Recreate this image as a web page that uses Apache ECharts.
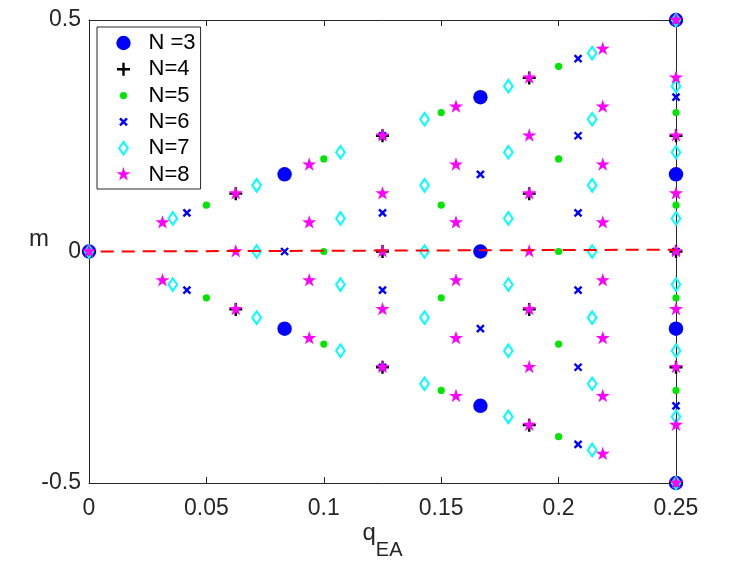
<!DOCTYPE html>
<html><head><meta charset="utf-8">
<script src="https://cdn.jsdelivr.net/npm/echarts@6/dist/echarts.min.js"></script>
<style>html,body{margin:0;padding:0;background:#fff}#c{width:747px;height:564px}</style>
</head><body><div id="c"></div>
<script>
// ---- data (q_EA, m) ----
const seriesNames = ['N =3', 'N=4', 'N=5', 'N=6', 'N=7', 'N=8'];

const n3 = [[0,0],[0.0833,0.1667],[0.0833,-0.1667],[0.1667,0.3333],[0.1667,0],[0.1667,-0.3333],
  [0.25,0.5],[0.25,0.1667],[0.25,-0.1667],[0.25,-0.5]];

const n4 = [[0,0],[0.0625,0.125],[0.0625,-0.125],[0.125,0.25],[0.125,0],[0.125,-0.25],
  [0.1875,0.375],[0.1875,0.125],[0.1875,-0.125],[0.1875,-0.375],
  [0.25,0.5],[0.25,0.25],[0.25,0],[0.25,-0.25],[0.25,-0.5]];

const n5 = [[0,0],[0.05,0.1],[0.05,-0.1],[0.1,0.2],[0.1,0],[0.1,-0.2],
  [0.15,0.3],[0.15,0.1],[0.15,-0.1],[0.15,-0.3],
  [0.2,0.4],[0.2,0.2],[0.2,0],[0.2,-0.2],[0.2,-0.4],
  [0.25,0.5],[0.25,0.3],[0.25,0.1],[0.25,-0.1],[0.25,-0.3],[0.25,-0.5]];

const n6 = [[0,0],[0.0417,0.0833],[0.0417,-0.0833],[0.0833,0.1667],[0.0833,0],[0.0833,-0.1667],
  [0.125,0.25],[0.125,0.0833],[0.125,-0.0833],[0.125,-0.25],
  [0.1667,0.3333],[0.1667,0.1667],[0.1667,0],[0.1667,-0.1667],[0.1667,-0.3333],
  [0.2083,0.4167],[0.2083,0.25],[0.2083,0.0833],[0.2083,-0.0833],[0.2083,-0.25],[0.2083,-0.4167],
  [0.25,0.5],[0.25,0.3333],[0.25,0.1667],[0.25,0],[0.25,-0.1667],[0.25,-0.3333],[0.25,-0.5]];

const n7 = [[0,0],[0.0357,0.0714],[0.0357,-0.0714],[0.0714,0.1429],[0.0714,0],[0.0714,-0.1429],
  [0.1071,0.2143],[0.1071,0.0714],[0.1071,-0.0714],[0.1071,-0.2143],
  [0.1429,0.2857],[0.1429,0.1429],[0.1429,0],[0.1429,-0.1429],[0.1429,-0.2857],
  [0.1786,0.3571],[0.1786,0.2143],[0.1786,0.0714],[0.1786,-0.0714],[0.1786,-0.2143],[0.1786,-0.3571],
  [0.2143,0.4286],[0.2143,0.2857],[0.2143,0.1429],[0.2143,0],[0.2143,-0.1429],[0.2143,-0.2857],[0.2143,-0.4286],
  [0.25,0.5],[0.25,0.3571],[0.25,0.2143],[0.25,0.0714],[0.25,-0.0714],[0.25,-0.2143],[0.25,-0.3571],[0.25,-0.5]];

const n8 = [[0,0],[0.0313,0.0625],[0.0313,-0.0625],[0.0625,0.125],[0.0625,0],[0.0625,-0.125],
  [0.0938,0.1875],[0.0938,0.0625],[0.0938,-0.0625],[0.0938,-0.1875],
  [0.125,0.25],[0.125,0.125],[0.125,0],[0.125,-0.125],[0.125,-0.25],
  [0.1563,0.3125],[0.1563,0.1875],[0.1563,0.0625],[0.1563,-0.0625],[0.1563,-0.1875],[0.1563,-0.3125],
  [0.1875,0.375],[0.1875,0.25],[0.1875,0.125],[0.1875,0],[0.1875,-0.125],[0.1875,-0.25],[0.1875,-0.375],
  [0.2188,0.4375],[0.2188,0.3125],[0.2188,0.1875],[0.2188,0.0625],[0.2188,-0.0625],[0.2188,-0.1875],[0.2188,-0.3125],[0.2188,-0.4375],
  [0.25,0.5],[0.25,0.375],[0.25,0.25],[0.25,0.125],[0.25,0],[0.25,-0.125],[0.25,-0.25],[0.25,-0.375],[0.25,-0.5]];

// red dashed reference line
const refQ = [0.005, 0.25];
const refM = [0, 0.004];

// ---- styling ----
const AX = '#262626';
const FONT = '"Liberation Sans", Arial, Helvetica, sans-serif';
const PAD = 'M-8,-8M8,8';
const SYM = {
  circle: 'path://' + PAD + 'M0,-7.2A7.2,7.2,0,1,1,0,7.2A7.2,7.2,0,1,1,0,-7.2Z',
  plus: 'path://' + PAD + 'M0,-6.5L0,6.5M-6.5,0L6.5,0',
  dot: 'path://' + PAD + 'M0,-3.6A3.6,3.6,0,1,1,0,3.6A3.6,3.6,0,1,1,0,-3.6Z',
  cross: 'path://' + PAD + 'M-3.5,-3.5L3.5,3.5M-3.5,3.5L3.5,-3.5',
  diamond: 'path://' + PAD + 'M0,-6.3L4.3,0L0,6.3L-4.3,0Z',
  star: 'path://' + PAD + 'M0,-7.4L1.66,-2.29L7.04,-2.29L2.69,0.87L4.35,5.99L0,2.83L-4.35,5.99L-2.69,0.87L-7.04,-2.29L-1.66,-2.29Z'
};
const styles = [
  { sym: SYM.circle,  item: { color: '#0000ff', borderWidth: 0 } },
  { sym: SYM.plus,    item: { color: 'none', borderColor: '#000000', borderWidth: 2.4 } },
  { sym: SYM.dot,     item: { color: '#00e600', borderWidth: 0 } },
  { sym: SYM.cross,   item: { color: 'none', borderColor: '#0000ff', borderWidth: 2.4 } },
  { sym: SYM.diamond, item: { color: 'none', borderColor: '#00ffff', borderWidth: 2 } },
  { sym: SYM.star,    item: { color: '#ff00ff', borderWidth: 0 } }
];
const allData = [n3, n4, n5, n6, n7, n8];

const series = allData.map((d, i) => ({
  name: seriesNames[i],
  type: 'scatter',
  data: d,
  symbol: styles[i].sym,
  symbolSize: 16,
  symbolKeepAspect: true,
  itemStyle: Object.assign({ opacity: 1 }, styles[i].item),
  clip: false,
  silent: true,
  z: 2 + i * 0.01
}));
series.push({
  name: 'ref',
  type: 'line',
  data: refQ.map((q, i) => [q, refM[i]]),
  symbol: 'none',
  showSymbol: false,
  lineStyle: { color: '#ff0000', width: 2, type: [13, 8] },
  silent: true,
  clip: false,
  z: 5
});

const tickLabel = { fontFamily: FONT, fontSize: 23, color: AX };
const xBase = { type: 'value', min: 0, max: 0.25, interval: 0.05,
  axisLine: { show: true, onZero: false, lineStyle: { color: AX, width: 1 } },
  axisTick: { show: true, inside: true, length: 6, lineStyle: { color: AX, width: 1 } },
  splitLine: { show: false } };
const yBase = { type: 'value', min: -0.5, max: 0.5, interval: 0.5,
  axisLine: { show: true, onZero: false, lineStyle: { color: AX, width: 1 } },
  axisTick: { show: true, inside: true, length: 6, lineStyle: { color: AX, width: 1 } },
  splitLine: { show: false } };

const option = {
  animation: false,
  backgroundColor: '#ffffff',
  textStyle: { fontFamily: FONT },
  grid: { left: 89, right: 71, top: 20, bottom: 81, containLabel: false, outerBoundsMode: 'none' },
  legend: {
    orient: 'vertical', left: 97, top: 27,
    itemWidth: 40, itemHeight: 16, itemGap: 0.3,
    padding: [3, 5, 1.5, 16],
    borderColor: AX, borderWidth: 1, backgroundColor: '#ffffff',
    selectedMode: false,
    textStyle: { fontFamily: FONT, fontSize: 22, color: '#000000', lineHeight: 26 },
    data: seriesNames.map((n, i) => ({ name: n, itemStyle: Object.assign({}, styles[i].item) }))
  },
  xAxis: [
    Object.assign({}, xBase, { position: 'bottom',
      axisLabel: Object.assign({ margin: 14 }, tickLabel),
      name: '{q|q}{s|EA}', nameLocation: 'middle', nameGap: 38, nameMoveOverlap: false,
      nameTextStyle: { rich: {
        q: { fontFamily: FONT, fontSize: 24, lineHeight: 24, color: AX, verticalAlign: 'top' },
        s: { fontFamily: FONT, fontSize: 20, lineHeight: 20, color: AX, verticalAlign: 'top', padding: [19, 0, 0, 0] }
      } } }),
    Object.assign({}, xBase, { position: 'top', axisLabel: { show: false } })
  ],
  yAxis: [
    Object.assign({}, yBase, { position: 'left',
      axisLabel: Object.assign({ margin: 8, padding: [4, 0, 0, 0] }, tickLabel),
      name: 'm', nameLocation: 'middle', nameRotate: 0, nameGap: 40, nameMoveOverlap: false,
      nameTextStyle: { fontFamily: FONT, fontSize: 24, lineHeight: 24, color: AX, verticalAlign: 'bottom', align: 'right' } }),
    Object.assign({}, yBase, { position: 'right', axisLabel: { show: false } })
  ],
  series: series
};

const chart = echarts.init(document.getElementById('c'), null, { renderer: 'canvas' });
chart.setOption(option);
</script>
</body></html>
